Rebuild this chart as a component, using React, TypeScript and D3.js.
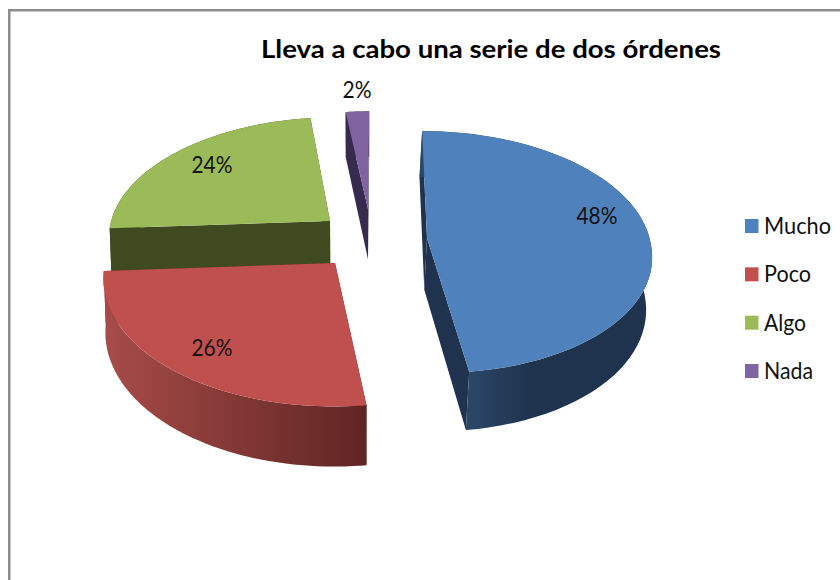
import React from "react";
import * as d3 from "d3";

const TITLE = "Lleva a cabo una serie de dos órdenes";
const categories = ["Mucho", "Poco", "Algo", "Nada"];
const shares = [48, 26, 24, 2];
const topColors = ["#4F81BD", "#C0504D", "#9BBB59", "#8064A2"];
const cutColors = ["#1F334E", "#5F2523", "#3F4A21", "#372A4F"];
// Exploded slice apexes, in screen pixels.
const apexX = [427, 335, 330, 368];
const apexY = [238, 263, 221, 209];
const radii = [224, 226, 224, 215];
const pivots = [242, 366, 366, 366];
const slopes = [0.0146, 0.0076, 0.0076, 0.0076];
const labelX = [597, 212, 212, 357];
const labelY = [224, 356, 173, 98];
const legendWidths = [67, 47, 42, 49];

const FONT = "Lato, Carlito, 'Open Sans', sans-serif";
const X0 = 380, Y0 = 245, K = 0.54, Q = 0.00052, DEPTH = 52, LEAN = 0.022;

const project = (wx: number, wz: number): [number, number] => {
  const s = 1 / (1 - Q * wz);
  return [X0 + wx * s + LEAN * Math.max(0, wz), Y0 + K * wz * s];
};
const lower = (p: [number, number], wz: number, i: number): [number, number] => {
  const s = 1 / (1 - Q * wz);
  return [p[0] - slopes[i] * (p[0] - pivots[i]), p[1] + DEPTH * s];
};
const unproject = (x: number, y: number) => {
  const d = y - Y0;
  const wz = d / (K + Q * d);
  const s = 1 / (1 - Q * wz);
  return { wx: (x - X0 - LEAN * Math.max(0, wz)) / s, wz };
};

const line = d3.line<[number, number]>();
const slices = d3.pie<number>().sort(null)(shares);

export default function App() {
  const legendY = d3.scalePoint<string>().domain(categories).range([226, 371]);
  const parts = slices.map((sl, i) => {
    const c = unproject(apexX[i], apexY[i]);
    const angles = d3.range(0, 61).map((n) => sl.startAngle + ((sl.endAngle - sl.startAngle) * n) / 60);
    const rim = angles.map((t) => ({ wx: c.wx + radii[i] * Math.sin(t), wz: c.wz - radii[i] * Math.cos(t) }));
    const top: [number, number][] = rim.map((p) => project(p.wx, p.wz));
    const bottom: [number, number][] = rim.map((p, n) => lower(top[n], p.wz, i));
    const apexTop = project(c.wx, c.wz);
    const apexBottom = lower(apexTop, c.wz, i);
    return {
      face: line([apexTop, ...top]) + "Z",
      wall: line([...top, ...bottom.slice().reverse()]) + "Z",
      startCut: line([apexTop, top[0], bottom[0], apexBottom]) + "Z",
      endCut: line([apexTop, top[60], bottom[60], apexBottom]) + "Z",
    };
  });
  const order = [3, 2, 0, 1];
  const wallFill = ["url(#wallBlue)", "url(#wallRed)", cutColors[2], cutColors[3]];
  return (
    <svg
      width={840}
      height={580}
      style={{ position: "fixed", left: 0, top: 0, background: "#fff" }}
      fontFamily={FONT}
    >
      <defs>
        <linearGradient id="wallBlue" gradientUnits="userSpaceOnUse" x1={468} x2={530} y1={0} y2={0}>
          <stop offset="0" stopColor="#2B4768" />
          <stop offset="1" stopColor="#1F334E" />
        </linearGradient>
        <linearGradient id="wallRed" gradientUnits="userSpaceOnUse" x1={108} x2={366} y1={0} y2={0}>
          <stop offset="0" stopColor="#A64B48" />
          <stop offset="1" stopColor="#5F2523" />
        </linearGradient>
      </defs>
      <path d="M9.25,582V10.25H842" fill="none" stroke="#8C8C8C" strokeWidth={2.5} />
      <text x={491} y={58} textAnchor="middle" fontSize={24} fontWeight={700} fill="#000" textLength={460} lengthAdjust="spacingAndGlyphs">
        {TITLE}
      </text>
      {order.map((i) => (
        <g key={categories[i]}>
          <path d={parts[i].startCut} fill={cutColors[i]} />
          <path d={parts[i].endCut} fill={cutColors[i]} />
          <path d={parts[i].wall} fill={wallFill[i]} />
          <path d={parts[i].face} fill={topColors[i]} />
        </g>
      ))}
      {shares.map((v, i) => (
        <text key={i} x={labelX[i]} y={labelY[i]} textAnchor="middle" fontSize={23} fill="#111" textLength={v < 10 ? 29 : 41} lengthAdjust="spacingAndGlyphs">
          {`${v}%`}
        </text>
      ))}
      {categories.map((c, i) => (
        <g key={c}>
          <rect x={745} y={(legendY(c) as number) - 7} width={13.5} height={14} fill={topColors[i]} />
          <text x={764} y={(legendY(c) as number) + 8} fontSize={23} fill="#111" textLength={legendWidths[i]} lengthAdjust="spacingAndGlyphs">
            {c}
          </text>
        </g>
      ))}
    </svg>
  );
}
